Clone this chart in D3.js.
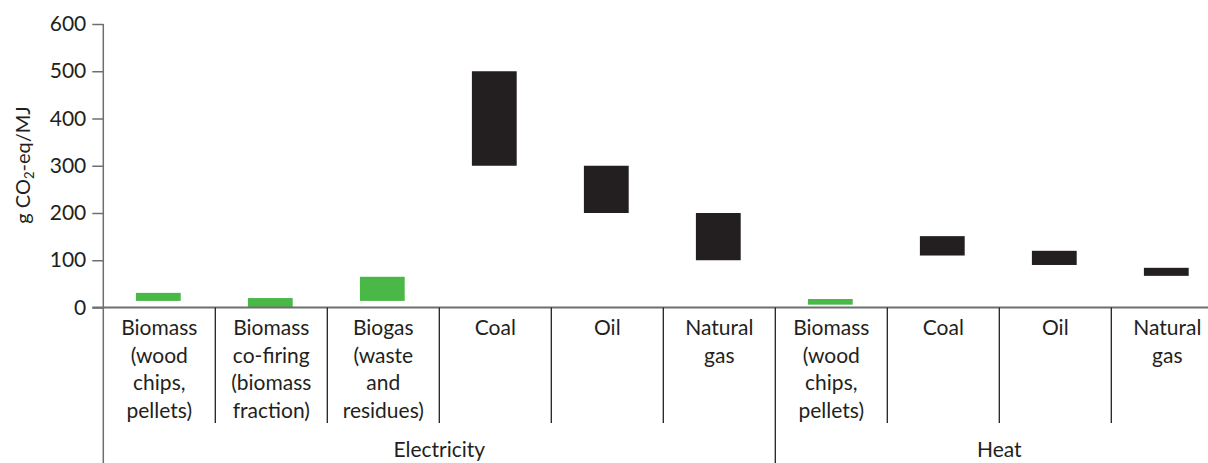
<!DOCTYPE html>
<html>
<head>
<meta charset="utf-8">
<script src="https://cdn.jsdelivr.net/npm/d3@7"></script>
<style>
  html, body { margin: 0; padding: 0; background: #fff; }
  svg { display: block; }
  text { font-family: Lato, "Open Sans", sans-serif; fill: #231f20; }
</style>
</head>
<body>
<div id="chart"></div>
<script>
// ---- Data ----
const categories = [
  ["Biomass", "(wood", "chips,", "pellets)"],
  ["Biomass", "co-firing", "(biomass", "fraction)"],
  ["Biogas", "(waste", "and", "residues)"],
  ["Coal"],
  ["Oil"],
  ["Natural", "gas"],
  ["Biomass", "(wood", "chips,", "pellets)"],
  ["Coal"],
  ["Oil"],
  ["Natural", "gas"]
];
const groupOf = ["Electricity","Electricity","Electricity","Electricity","Electricity","Electricity","Heat","Heat","Heat","Heat"];
const groups = ["Electricity", "Heat"];
const fuelType = ["bio","bio","bio","fossil","fossil","fossil","bio","fossil","fossil","fossil"];
const lowValues  = [14, 1, 14, 300, 200, 100, 6, 110, 90, 67];
const highValues = [31, 20, 65, 500, 300, 200, 18, 151, 120, 84];
const yTicks = [0, 100, 200, 300, 400, 500, 600];

// ---- Layout ----
const W = 1208, H = 463;
const x0 = 103.3, catW = 112;
const yTop = 24, yZero = 307.5;

const svg = d3.select("#chart").append("svg").attr("width", W).attr("height", H);

const ids = categories.map((c, i) => i);
const x = d3.scaleBand().domain(ids).range([x0, x0 + catW * ids.length]).paddingInner(0).paddingOuter(0);
const y = d3.scaleLinear().domain([0, 600]).range([yZero, yTop]);

const color = { bio: "#4ab847", fossil: "#231f20" };

// Bars (floating ranges)
const bw = x.bandwidth() * 0.4;
svg.append("g").selectAll("rect").data(ids).join("rect")
  .attr("x", i => x(i) + x.bandwidth() / 2 - bw / 2 - 1)
  .attr("width", bw)
  .attr("y", i => y(highValues[i]))
  .attr("height", i => y(lowValues[i]) - y(highValues[i]))
  .attr("fill", i => color[fuelType[i]]);

// Y axis
const yAxis = d3.axisLeft(y).tickValues(yTicks).tickSize(11).tickPadding(6);
const gy = svg.append("g").attr("transform", `translate(${x0},0)`).call(yAxis);
gy.select(".domain").remove();
gy.selectAll(".tick line").attr("stroke", "#6d6e71").attr("stroke-width", 1.5);
gy.selectAll(".tick text").attr("font-size", 21).attr("font-family", "Lato, sans-serif").attr("fill", "#231f20");
svg.append("line").attr("x1", x0).attr("x2", x0).attr("y1", y(600)).attr("y2", H)
  .attr("stroke", "#6d6e71").attr("stroke-width", 1.5);

// X axis baseline
svg.append("line").attr("x1", x0 - 11).attr("x2", W).attr("y1", yZero).attr("y2", yZero)
  .attr("stroke", "#6d6e71").attr("stroke-width", 2);

// Category separators
const seps = ids.slice(1).filter(i => groupOf[i] === groupOf[i - 1]);
svg.append("g").selectAll("line").data(seps).join("line")
  .attr("x1", i => x(i)).attr("x2", i => x(i))
  .attr("y1", yZero).attr("y2", 423)
  .attr("stroke", "#231f20").attr("stroke-width", 1.3);
// Group separators
const gseps = ids.slice(1).filter(i => groupOf[i] !== groupOf[i - 1]);
svg.append("g").selectAll("line").data(gseps).join("line")
  .attr("x1", i => x(i)).attr("x2", i => x(i))
  .attr("y1", yZero).attr("y2", H)
  .attr("stroke", "#231f20").attr("stroke-width", 1.3);

// Category labels
const lab = svg.append("g").selectAll("text").data(ids).join("text")
  .attr("text-anchor", "middle").attr("font-size", 21);
lab.each(function(i) {
  const t = d3.select(this);
  categories[i].forEach((line, k) => {
    t.append("tspan").attr("x", x(i) + x.bandwidth() / 2).attr("y", 335 + k * 27.5).text(line);
  });
});

// Group labels
svg.append("g").selectAll("text").data(groups).join("text")
  .attr("text-anchor", "middle").attr("font-size", 21)
  .attr("x", g => {
    const idx = ids.filter(i => groupOf[i] === g);
    return (x(idx[0]) + x(idx[idx.length - 1]) + x.bandwidth()) / 2;
  })
  .attr("y", 457)
  .text(g => g);

// Y axis title
const yt = svg.append("text").attr("transform", `translate(30,165) rotate(-90)`)
  .attr("text-anchor", "middle").attr("font-size", 20);
yt.append("tspan").text("g CO");
yt.append("tspan").attr("font-size", 13).attr("dy", 4).text("2");
yt.append("tspan").attr("dy", -4).text("-eq/MJ");
</script>
</body>
</html>
